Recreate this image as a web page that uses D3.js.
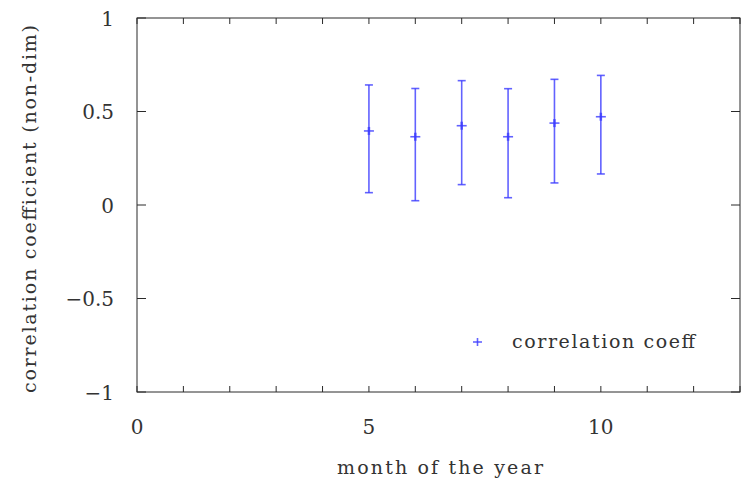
<!DOCTYPE html>
<html><head><meta charset="utf-8">
<script src="https://cdn.jsdelivr.net/npm/d3@7"></script>
<style>body{margin:0;background:#fff}svg{display:block}text{font-family:"DejaVu Serif","Liberation Serif","Times New Roman",serif;fill:#333}</style>
</head><body><svg id="c" width="742" height="479"></svg>
<script>
const months = [5, 6, 7, 8, 9, 10];
const coeff = [0.396, 0.365, 0.424, 0.365, 0.438, 0.472];
const upper = [0.642, 0.623, 0.665, 0.622, 0.672, 0.693];
const lower = [0.066, 0.023, 0.109, 0.039, 0.118, 0.166];
const xTicks = [0, 5, 10];
const yTicks = [-1, -0.5, 0, 0.5, 1];
const yTickLabels = ["\u22121", "\u22120.5", "0", "0.5", "1"];

const svg = d3.select("#c");
const L = 137, R = 740, T = 18, B = 392;
const x = d3.scaleLinear().domain([0, 13]).range([L, R]);
const y = d3.scaleLinear().domain([-1, 1]).range([B, T]);
const axisCol = "#2a2a2a";

// frame
svg.append("rect").attr("x", L).attr("y", T).attr("width", R - L).attr("height", B - T)
  .attr("fill", "none").attr("stroke", axisCol).attr("stroke-width", 1);

// ticks
const g = svg.append("g").attr("stroke", axisCol);
d3.range(0, 14).forEach(v => {
  g.append("line").attr("x1", x(v)).attr("x2", x(v)).attr("y1", B).attr("y2", B - 6);
  g.append("line").attr("x1", x(v)).attr("x2", x(v)).attr("y1", T).attr("y2", T + 6);
});
yTicks.forEach(v => {
  g.append("line").attr("x1", L).attr("x2", L + 9).attr("y1", y(v)).attr("y2", y(v));
  g.append("line").attr("x1", R).attr("x2", R - 9).attr("y1", y(v)).attr("y2", y(v));
});

// tick labels
svg.selectAll(".xl").data(xTicks).join("text").attr("class", "xl")
  .attr("x", d => x(d)).attr("y", 434).attr("text-anchor", "middle").attr("font-size", 20)
  .attr("font-weight", 300).text(d => d);
svg.selectAll(".yl").data(yTicks).join("text").attr("class", "yl")
  .attr("x", 114).attr("y", d => y(d) + 7.5).attr("text-anchor", "end").attr("font-size", 20)
  .text((d, i) => yTickLabels[i]);

// axis titles
svg.append("text").attr("x", 337).attr("y", 474).attr("font-size", 19)
  .attr("textLength", 206).attr("lengthAdjust", "spacing").text("month of the year");
svg.append("text").attr("transform", `translate(36,393) rotate(-90)`)
  .attr("font-size", 19).attr("textLength", 368).attr("lengthAdjust", "spacing")
  .text("correlation coefficient (non-dim)");

// error bars
const col = "#3b3bff";
const eb = svg.append("g").attr("stroke", col).attr("stroke-width", 1.6).attr("stroke-opacity", 0.8);
months.forEach((m, i) => {
  const cx = x(m);
  eb.append("line").attr("x1", cx).attr("x2", cx).attr("y1", y(lower[i])).attr("y2", y(upper[i]));
  eb.append("line").attr("x1", cx - 4).attr("x2", cx + 4).attr("y1", y(lower[i])).attr("y2", y(lower[i]));
  eb.append("line").attr("x1", cx - 4).attr("x2", cx + 4).attr("y1", y(upper[i])).attr("y2", y(upper[i]));
  eb.append("line").attr("x1", cx - 5).attr("x2", cx + 5).attr("y1", y(coeff[i])).attr("y2", y(coeff[i]));
  eb.append("line").attr("x1", cx).attr("x2", cx).attr("y1", y(coeff[i]) - 4).attr("y2", y(coeff[i]) + 4).attr("stroke-width", 2.5);
});

// legend
const lg = svg.append("g").attr("stroke", col).attr("stroke-width", 1.6).attr("stroke-opacity", 0.8);
lg.append("line").attr("x1", 473).attr("x2", 482).attr("y1", 342).attr("y2", 342);
lg.append("line").attr("x1", 477.5).attr("x2", 477.5).attr("y1", 338).attr("y2", 346);
svg.append("text").attr("x", 512).attr("y", 348).attr("font-size", 19)
  .attr("textLength", 183).attr("lengthAdjust", "spacing").text("correlation coeff");
</script></body></html>
